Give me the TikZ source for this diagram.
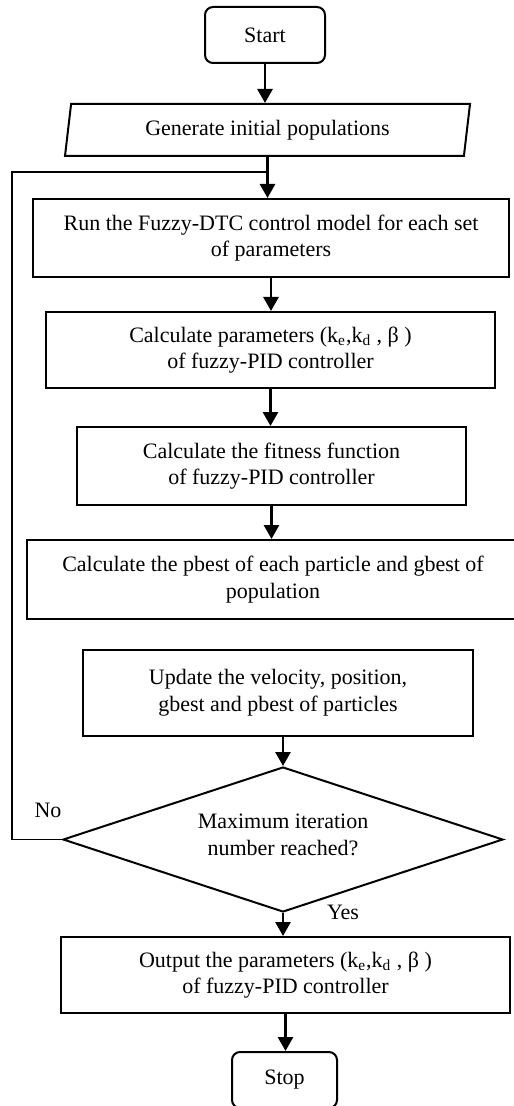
\documentclass[tikz,border=0pt]{standalone}
\usepackage{fontspec}
\setmainfont{Liberation Serif}
\usetikzlibrary{shapes.geometric,arrows.meta}

\begin{document}
\begin{tikzpicture}[x=0.5pt,y=-0.5pt,
    main node/.style={rectangle,draw,line width=1pt,align=center,inner sep=0pt,font=\fontsize{11}{13.3}\selectfont},
    end node/.style={main node,rounded corners=4pt},
    flow/.style={line width=1.4pt,-{Triangle[width=7.5pt,length=7pt]}}]
    \useasboundingbox (0,0) rectangle (513,1106);

    \node[end node,minimum width=60pt,minimum height=28pt] (start) at (265,35) {Start};
    \node[main node,trapezium,trapezium left angle=73,trapezium right angle=107,trapezium stretches body,minimum width=202.5pt,minimum height=26pt] (gen) at (267.5,130) {Generate initial populations};
    \node[main node,minimum width=238pt,minimum height=39pt] (run) at (271,238) {Run the Fuzzy-DTC control model for each set\\of parameters};
    \node[main node,minimum width=224.5pt,minimum height=38pt] (calc) at (270.5,350) {Calculate parameters (k\textsubscript{e},k\textsubscript{d} , β )\\of fuzzy-PID controller};
    \node[main node,minimum width=194.5pt,minimum height=39pt] (fit) at (271.5,466) {Calculate the fitness function\\of fuzzy-PID controller};
    \node[main node,minimum width=246pt,minimum height=39.5pt] (best) at (273,579.5) {Calculate the pbest of each particle and gbest of\\population};
    \node[main node,minimum width=195pt,minimum height=43pt] (upd) at (278,693) {Update the velocity, position,\\gbest and pbest of particles};
    \node[main node,diamond,aspect=3,minimum width=220pt,minimum height=72.5pt] (max) at (283,839.5) {Maximum iteration\\number reached?\\[-8.3pt]};
    \node[main node,minimum width=224.5pt,minimum height=38pt] (out) at (285.5,975) {Output the parameters (k\textsubscript{e},k\textsubscript{d} , β )\\of fuzzy-PID controller};
    \node[end node,minimum width=52.5pt,minimum height=28pt] (stop) at (284.5,1080) {Stop};

    \node[font=\fontsize{11}{13.3}\selectfont] (no) at (48,810) {No};
    \node[font=\fontsize{11}{13.3}\selectfont] (yes) at (343,912) {Yes};

    \draw[flow] (start.south) -- (start.south |- gen.north);
    \draw[flow] (gen.south) -- (gen.south |- run.north);
    \draw[flow] (run.south) -- (run.south |- calc.north);
    \draw[flow] (calc.south) -- (calc.south |- fit.north);
    \draw[flow] (fit.south) -- (fit.south |- best.north);
    \draw[flow] (max.north |- upd.south) -- (max.north);
    \draw[flow] (max.south) -- (max.south |- out.north);
    \draw[flow] (out.south) -- (out.south |- stop.north);

    % back to the model run
    \coordinate (corner) at (12,172);
    \coordinate (join) at (267.5,172);
    \draw[line width=0.8pt] (max.west) -| (corner) -- (join);
\end{tikzpicture}
\end{document}
